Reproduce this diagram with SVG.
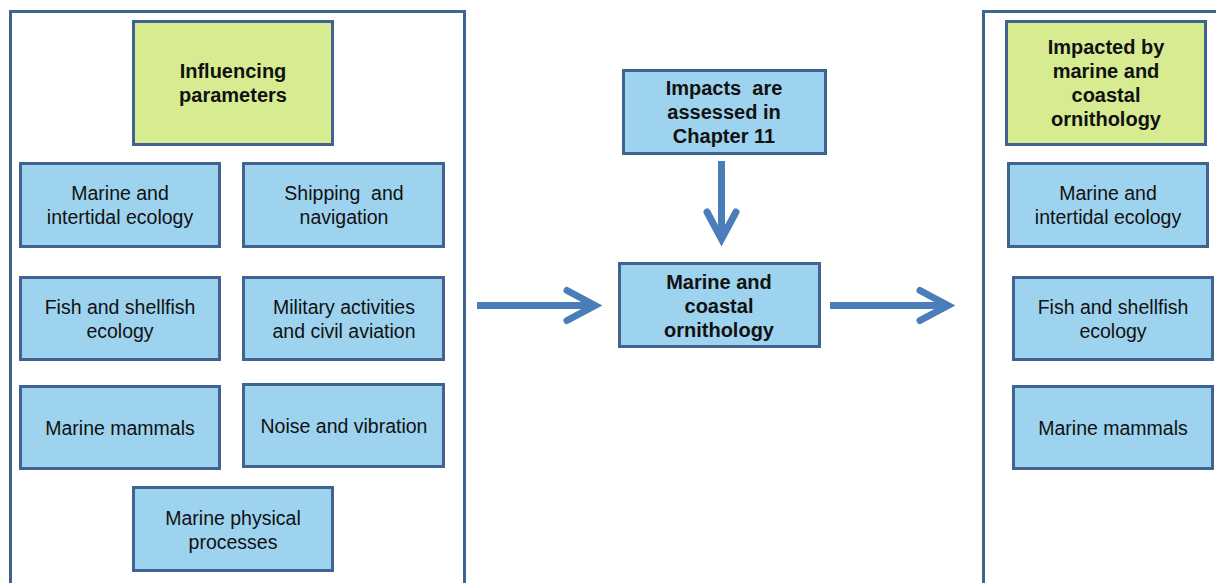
<svg xmlns="http://www.w3.org/2000/svg" width="1216" height="583" viewBox="0 0 1216 583">
  <style>
    .frame { fill: #ffffff; stroke: #41638F; stroke-width: 3; }
    .box { fill: #9DD3EE; stroke: #41638F; stroke-width: 3; }
    .head { fill: #D7EC91; stroke: #41638F; stroke-width: 3; }
    text { font-family: "Liberation Sans", Arial, sans-serif; font-size: 19.5px; fill: #111111; text-anchor: middle; }
    text.b { font-weight: bold; font-size: 20px; }
    .conn { fill: none; stroke: #4A7EBB; stroke-width: 7; stroke-linecap: butt; stroke-linejoin: round; }
    .head-arrow { fill: none; stroke: #4A7EBB; stroke-width: 7; stroke-linecap: round; stroke-linejoin: miter; }
  </style>
  <rect width="1216" height="583" fill="#ffffff"/>

  <!-- outer panels -->
  <g id="panel-left"><rect class="frame" x="10.5" y="11.5" width="454" height="590"/></g>
  <g id="panel-right"><rect class="frame" x="983.5" y="11.5" width="260" height="590"/></g>

  <!-- left panel nodes -->
  <g id="influencing-parameters">
    <rect class="head" x="133.5" y="21.5" width="199" height="123"/>
    <text class="b" x="233" y="78">Influencing</text>
    <text class="b" x="233" y="102">parameters</text>
  </g>
  <g id="marine-intertidal-left">
    <rect class="box" x="20.5" y="163.5" width="199" height="83"/>
    <text x="120" y="200">Marine and</text>
    <text x="120" y="224">intertidal ecology</text>
  </g>
  <g id="shipping-navigation">
    <rect class="box" x="243.5" y="163.5" width="200" height="83"/>
    <text x="344" y="200" xml:space="preserve">Shipping  and</text>
    <text x="344" y="224">navigation</text>
  </g>
  <g id="fish-shellfish-left">
    <rect class="box" x="20.5" y="277.5" width="199" height="82"/>
    <text x="120" y="314">Fish and shellfish</text>
    <text x="120" y="338">ecology</text>
  </g>
  <g id="military-aviation">
    <rect class="box" x="243.5" y="277.5" width="200" height="82"/>
    <text x="344" y="314">Military activities</text>
    <text x="344" y="338">and civil aviation</text>
  </g>
  <g id="marine-mammals-left">
    <rect class="box" x="20.5" y="386.5" width="199" height="82"/>
    <text x="120" y="435">Marine mammals</text>
  </g>
  <g id="noise-vibration">
    <rect class="box" x="243.5" y="384.5" width="200" height="82"/>
    <text x="344" y="433">Noise and vibration</text>
  </g>
  <g id="marine-physical">
    <rect class="box" x="133.5" y="487.5" width="199" height="83"/>
    <text x="233" y="525">Marine physical</text>
    <text x="233" y="549">processes</text>
  </g>

  <!-- centre nodes -->
  <g id="impacts-assessed">
    <rect class="box" x="623.5" y="70.5" width="202" height="83"/>
    <text class="b" x="724" y="95" xml:space="preserve">Impacts  are</text>
    <text class="b" x="724" y="119">assessed in</text>
    <text class="b" x="724" y="143">Chapter 11</text>
  </g>
  <g id="marine-coastal-ornithology">
    <rect class="box" x="619.5" y="263.5" width="200" height="83"/>
    <text class="b" x="719" y="289">Marine and</text>
    <text class="b" x="719" y="313">coastal</text>
    <text class="b" x="719" y="337">ornithology</text>
  </g>

  <!-- right panel nodes -->
  <g id="impacted-by">
    <rect class="head" x="1006.5" y="21.5" width="199" height="123"/>
    <text class="b" x="1106" y="54">Impacted by</text>
    <text class="b" x="1106" y="78">marine and</text>
    <text class="b" x="1106" y="102">coastal</text>
    <text class="b" x="1106" y="126">ornithology</text>
  </g>
  <g id="marine-intertidal-right">
    <rect class="box" x="1008.5" y="163.5" width="199" height="83"/>
    <text x="1108" y="200">Marine and</text>
    <text x="1108" y="224">intertidal ecology</text>
  </g>
  <g id="fish-shellfish-right">
    <rect class="box" x="1013.5" y="277.5" width="199" height="82"/>
    <text x="1113" y="314">Fish and shellfish</text>
    <text x="1113" y="338">ecology</text>
  </g>
  <g id="marine-mammals-right">
    <rect class="box" x="1013.5" y="386.5" width="199" height="82"/>
    <text x="1113" y="435">Marine mammals</text>
  </g>

  <!-- connectors -->
  <g id="connectors">
    <line class="conn" x1="477" y1="305.5" x2="594" y2="305.5"/>
    <polyline class="head-arrow" points="567,290.5 595,305.5 567,320.5"/>
    <line class="conn" x1="830" y1="305.5" x2="947" y2="305.5"/>
    <polyline class="head-arrow" points="920,290.5 948,305.5 920,320.5"/>
    <line class="conn" x1="721.5" y1="161" x2="721.5" y2="238"/>
    <polyline class="head-arrow" points="707,212 721.5,239 736,212"/>
  </g>
</svg>
